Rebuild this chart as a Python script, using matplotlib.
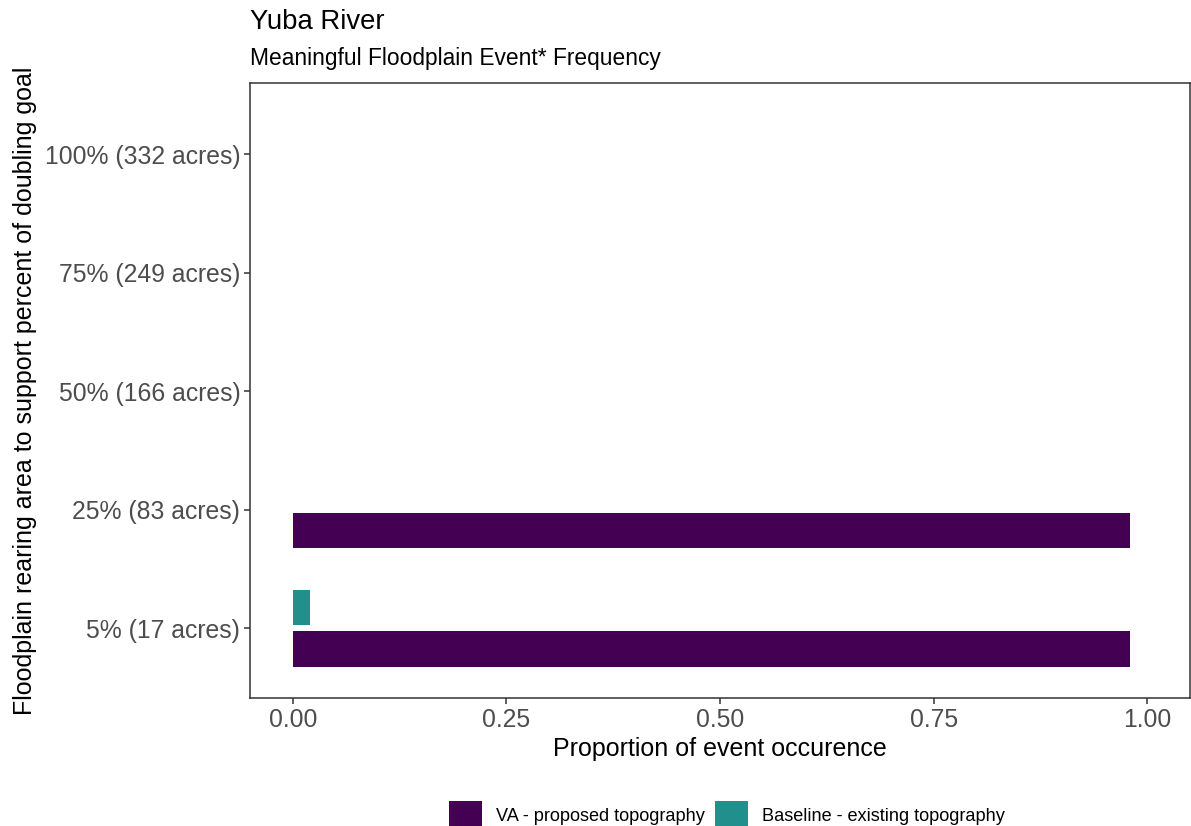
import matplotlib
matplotlib.use("Agg")
import matplotlib.pyplot as plt
import numpy as np

# data
categories = ["5% (17 acres)", "25% (83 acres)", "50% (166 acres)",
              "75% (249 acres)", "100% (332 acres)"]
va_values = [0.98, 0.98, 0, 0, 0]
baseline_values = [0.02, 0, 0, 0, 0]
series_names = ["VA - proposed topography", "Baseline - existing topography"]
x_ticks = [0, 0.25, 0.5, 0.75, 1.0]
x_tick_labels = ["0.00", "0.25", "0.50", "0.75", "1.00"]

plt.rcParams["font.family"] = ["Liberation Sans", "DejaVu Sans"]

W, H = 1191, 826
fig = plt.figure(figsize=(W / 100, H / 100), dpi=100)
ax = fig.add_axes([250 / W, 1 - 698 / H, 940 / W, (698 - 83) / H])

pos = np.arange(len(categories))
bar_h = 0.3
off = 0.175
b1 = ax.barh(pos - off, va_values, height=bar_h, color="#440154",
             linewidth=0, label=series_names[0])
b2 = ax.barh(pos + off, baseline_values, height=bar_h, color="#21908C",
             linewidth=0, label=series_names[1])

ax.set_xlim(-0.05, 1.05)
ax.set_ylim(-0.59, 4.6)
ax.set_yticks(pos)
ax.set_yticklabels(categories)
ax.set_xticks(x_ticks)
ax.set_xticklabels(x_tick_labels)

ax.tick_params(axis="both", colors="#333333", labelcolor="#4D4D4D",
               labelsize=17.8, length=4, width=1.1, pad=3)
for s in ax.spines.values():
    s.set_color("#333333")
    s.set_linewidth(1.1)

ax.set_xlabel("Proportion of event occurence", fontsize=18, labelpad=4)
ax.set_ylabel("Floodplain rearing area to support percent of doubling goal",
              fontsize=18)
ax.yaxis.set_label_coords(-0.2266, 0.5)

fig.text(250 / W, 1 - 22 / H, "Yuba River", fontsize=19.8, va="center", ha="left")
fig.text(250 / W, 1 - 59 / H, "Meaningful Floodplain Event* Frequency",
         fontsize=16.4, va="center", ha="left")

fig.legend(handles=[b1, b2], labels=series_names, loc="center",
           bbox_to_anchor=(727 / W, 1 - 815 / H), ncol=2, frameon=False,
           fontsize=13.1, handlelength=1.8, handleheight=2.0,
           handletextpad=0.75, columnspacing=0.6)

fig.savefig("out.png", dpi=100)
